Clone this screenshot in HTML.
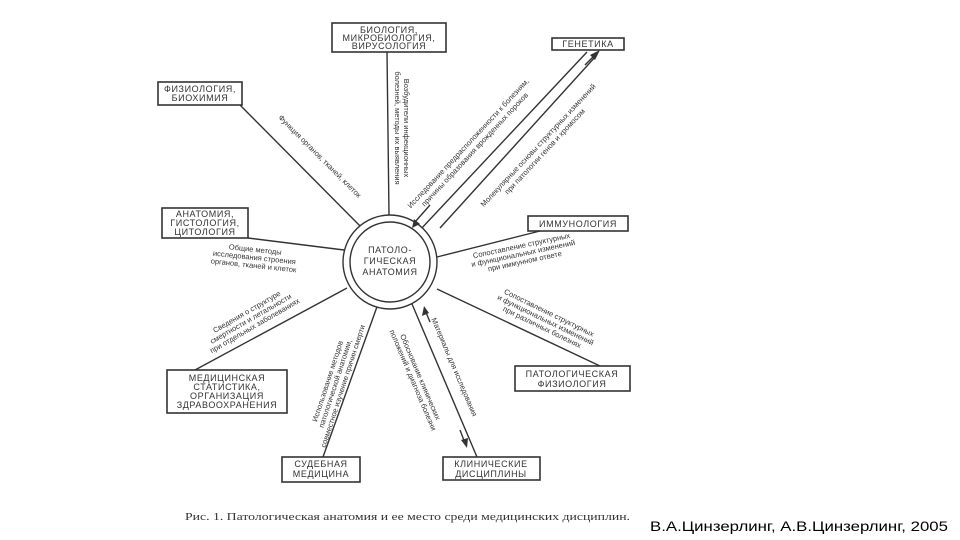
<!DOCTYPE html>
<html><head><meta charset="utf-8"><style>
html,body{margin:0;padding:0;background:#fff;width:960px;height:540px;overflow:hidden}
svg{display:block}
text{font-family:"Liberation Sans","DejaVu Sans",sans-serif;fill:#333}
.b{font-size:9px;letter-spacing:0.6px}
.s{font-size:7.5px;fill:#444}
</style></head><body>
<svg width="960" height="540" viewBox="0 0 960 540">
<g stroke="#333" stroke-width="1.6" fill="#fff">
<rect x="332" y="23" width="114" height="29"/>
<rect x="552" y="38" width="72" height="12"/>
<rect x="158" y="82" width="84" height="23"/>
<rect x="162" y="208" width="86" height="30"/>
<rect x="528" y="216" width="100" height="15"/>
<rect x="515" y="366" width="115" height="25"/>
<rect x="167" y="370" width="120" height="43"/>
<rect x="282" y="457" width="78" height="25"/>
<rect x="443" y="457" width="97" height="23"/>
</g>
<g stroke="#333" stroke-width="1.4" fill="none">
<line x1="387" y1="52" x2="389" y2="215"/>
<line x1="587" y1="52" x2="420" y2="230"/>
<line x1="596" y1="56" x2="440" y2="228"/>
<line x1="240" y1="105" x2="367" y2="233"/>
<line x1="248" y1="238" x2="344" y2="250"/>
<line x1="540" y1="231" x2="437" y2="257"/>
<line x1="195" y1="370" x2="347" y2="288"/>
<line x1="323" y1="457" x2="378" y2="304"/>
<line x1="477" y1="457" x2="412" y2="304"/>
<line x1="600" y1="366" x2="437" y2="289"/>
<circle cx="390" cy="262" r="47" fill="#fff"/>
<circle cx="390" cy="262" r="40"/>
<line x1="430" y1="205" x2="415" y2="222"/>
<line x1="585" y1="65" x2="598" y2="52"/>
<line x1="425" y1="310" x2="430" y2="322"/>
<line x1="460" y1="430" x2="465" y2="443"/>
</g>
<g fill="#333">
<polygon points="412,228 414,219 420,224"/>
<polygon points="600,50 590,55 595,60"/>
<polygon points="424,306 422,316 429,313"/>
<polygon points="467,448 461,440 468,438"/>
</g>
<g class="b" text-anchor="middle">
<text x="389" y="33">БИОЛОГИЯ,</text>
<text x="389" y="41">МИКРОБИОЛОГИЯ,</text>
<text x="389" y="49">ВИРУСОЛОГИЯ</text>
<text x="588" y="47">ГЕНЕТИКА</text>
<text x="200" y="92">ФИЗИОЛОГИЯ,</text>
<text x="200" y="101">БИОХИМИЯ</text>
<text x="205" y="217">АНАТОМИЯ,</text>
<text x="205" y="226">ГИСТОЛОГИЯ,</text>
<text x="205" y="235">ЦИТОЛОГИЯ</text>
<text x="578" y="227">ИММУНОЛОГИЯ</text>
<text x="572" y="377">ПАТОЛОГИЧЕСКАЯ</text>
<text x="572" y="387">ФИЗИОЛОГИЯ</text>
<text x="227" y="381">МЕДИЦИНСКАЯ</text>
<text x="227" y="390">СТАТИСТИКА,</text>
<text x="227" y="399">ОРГАНИЗАЦИЯ</text>
<text x="227" y="408">ЗДРАВООХРАНЕНИЯ</text>
<text x="321" y="467">СУДЕБНАЯ</text>
<text x="321" y="477">МЕДИЦИНА</text>
<text x="491" y="467">КЛИНИЧЕСКИЕ</text>
<text x="491" y="477">ДИСЦИПЛИНЫ</text>
<text x="390" y="253">ПАТОЛО-</text>
<text x="390" y="264">ГИЧЕСКАЯ</text>
<text x="390" y="275">АНАТОМИЯ</text>
</g>
<g class="s" text-anchor="middle">
<g transform="translate(404,128) rotate(90)"><text x="0" y="0">Возбудители инфекционных</text><text x="0" y="9">болезней, методы их выявления</text></g>
<g transform="translate(318,158) rotate(45)"><text x="0" y="0">Функция органов, тканей, клеток</text></g>
<g transform="translate(470,145) rotate(-47)"><text x="0" y="0">Исследование предрасположенности к болезням,</text><text x="0" y="9">причины образования врожденных пороков</text></g>
<g transform="translate(540,147) rotate(-47)"><text x="0" y="0">Молекулярные основы структурных изменений</text><text x="0" y="9">при патологии генов и хромосом</text></g>
<g transform="translate(255,252) rotate(6)"><text x="0" y="0">Общие методы</text><text x="0" y="8">исследования строения</text><text x="0" y="16">органов, тканей и клеток</text></g>
<g transform="translate(522,248) rotate(-12)"><text x="0" y="0">Сопоставление структурных</text><text x="0" y="8">и функциональных изменений</text><text x="0" y="16">при иммунном ответе</text></g>
<g transform="translate(548,315) rotate(26)"><text x="0" y="0">Сопоставление структурных</text><text x="0" y="8">и функциональных изменений</text><text x="0" y="16">при различных болезнях</text></g>
<g transform="translate(248,314) rotate(-30)"><text x="0" y="0">Сведения о структуре</text><text x="0" y="8">смертности и летальности</text><text x="0" y="16">при отдельных заболеваниях</text></g>
<g transform="translate(330,382) rotate(-72)"><text x="0" y="0">Использование методов</text><text x="0" y="8">патологической анатомии,</text><text x="0" y="16">совместное изучение причин смерти</text></g>
<g transform="translate(452,368) rotate(67)"><text x="0" y="0">Материалы для исследования</text></g>
<g transform="translate(418,378) rotate(67)"><text x="0" y="0">Обоснование клинических</text><text x="0" y="8">положений и диагноза болезни</text></g>
</g>
<text x="185" y="520" textLength="445" lengthAdjust="spacingAndGlyphs" style="font-family:'Liberation Serif',serif;font-size:11px;fill:#333">Рис. 1. Патологическая анатомия и ее место среди медицинских дисциплин.</text>
<text x="650" y="531" textLength="298" lengthAdjust="spacingAndGlyphs" style="font-size:14px;fill:#000">В.А.Цинзерлинг, А.В.Цинзерлинг, 2005</text>
</svg>
</body></html>
